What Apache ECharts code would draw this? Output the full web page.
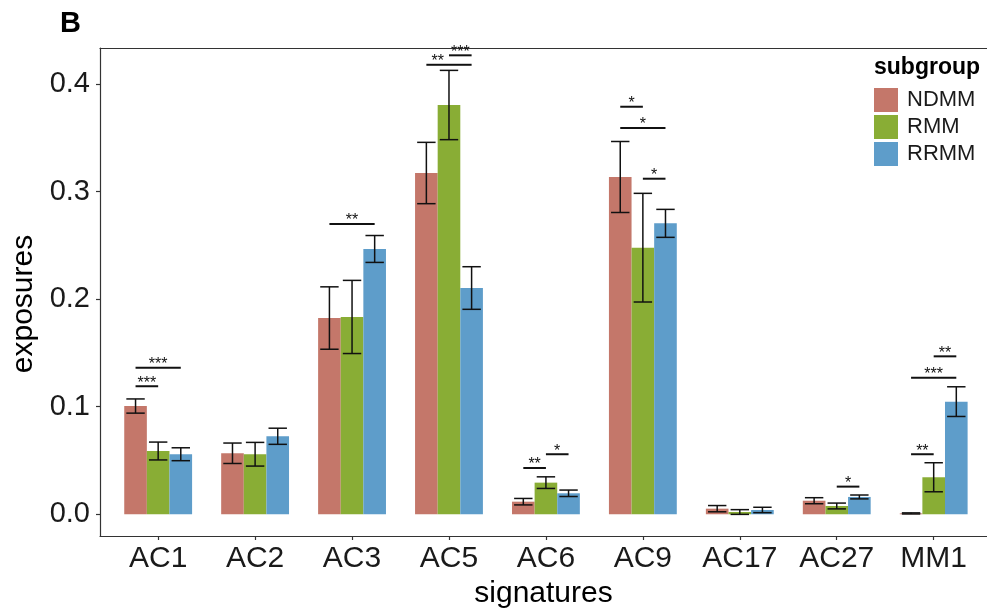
<!DOCTYPE html>
<html><head><meta charset="utf-8">
<script src="https://cdn.jsdelivr.net/npm/echarts@6/dist/echarts.min.js"></script>
<style>html,body{margin:0;padding:0;background:#fff}#c{width:987px;height:609px}</style>
</head><body><div id="c"></div>
<script>
// ---- data ----
const categories = ['AC1','AC2','AC3','AC5','AC6','AC9','AC17','AC27','MM1'];
const groups = ['NDMM','RMM','RRMM'];
const ndmm    = [0.1006,0.0567,0.1824,0.3172,0.0117,0.3135,0.0052,0.0126,0.0008];
const ndmmErr = [0.0066,0.0095,0.0290,0.0285,0.0030,0.0330,0.0029,0.0028,0.0005];
const rmm     = [0.0588,0.0558,0.1834,0.3804,0.0294,0.2478,0.0021,0.0077,0.0344];
const rmmErr  = [0.0083,0.0110,0.0340,0.0322,0.0054,0.0505,0.0022,0.0027,0.0135];
const rrmm    = [0.0558,0.0725,0.2466,0.2103,0.0195,0.2704,0.0040,0.0161,0.1047];
const rrmmErr = [0.0060,0.0075,0.0125,0.0198,0.0030,0.0130,0.0025,0.0018,0.0138];
const yTicks = [0, 0.1, 0.2, 0.3, 0.4];
// significance brackets
const sigCategory = [0,0,2,3,3,3,4,4,5,5,5,7,8,8,8];
const sigFrom     = [0,0,0,0,1,1,0,1,0,0,1,1,0,0,1];
const sigTo       = [1,2,2,1,2,2,1,2,1,2,2,2,1,2,2];
const sigY        = [0.119,0.1362,0.2698,0.4178,0.4178,0.4266,0.043,0.0558,0.3788,0.359,0.3119,0.0257,0.0558,0.127,0.1468];
const sigLabel    = ['***','***','**','**','','***','**','*','*','*','*','*','**','***','**'];

// ---- chart ----
const FONT = '"Liberation Sans", Arial, sans-serif';
const colors = ['#C4776A','#89AD35','#5E9DCA'];
const barW = 0.7/3;
const offsets = [-barW, 0, barW];
const whisker = 0.095;

function barSeries(idx, vals, errs) {
  return {
    type: 'custom', name: groups[idx],
    itemStyle: {color: colors[idx]},
    data: vals.map((v,i)=>[i, v, errs[i]]),
    encode: {x: 0, y: 1},
    z: 2 + idx,
    renderItem(params, api) {
      const c = api.value(0) + offsets[idx];
      const v = api.value(1), e = api.value(2);
      const p0 = api.coord([c - barW/2, 0]);
      const p1 = api.coord([c + barW/2, v]);
      const top = api.coord([c, v + e]);
      const bot = api.coord([c, v - e]);
      const wl = api.coord([c - whisker, v])[0];
      const wr = api.coord([c + whisker, v])[0];
      const ls = {stroke: '#111', lineWidth: 1.5};
      return {type: 'group', children: [
        {type: 'rect', shape: {x: p0[0], y: p1[1], width: p1[0]-p0[0], height: p0[1]-p1[1]}, style: {fill: colors[idx]}},
        {type: 'line', shape: {x1: top[0], y1: top[1], x2: bot[0], y2: bot[1]}, style: ls},
        {type: 'line', shape: {x1: wl, y1: top[1], x2: wr, y2: top[1]}, style: ls},
        {type: 'line', shape: {x1: wl, y1: bot[1], x2: wr, y2: bot[1]}, style: ls}
      ]};
    }
  };
}

const sigSeries = {
  type: 'custom', name: 'sig', z: 10,
  data: sigCategory.map((c,i)=>[c, sigFrom[i], sigTo[i], sigY[i]]),
  encode: {x: 0, y: 3},
  renderItem(params, api) {
    const c = api.value(0);
    const a = api.coord([c + offsets[api.value(1)], api.value(3)]);
    const b = api.coord([c + offsets[api.value(2)], api.value(3)]);
    const label = sigLabel[params.dataIndex];
    const children = [
      {type: 'line', shape: {x1: a[0], y1: a[1], x2: b[0], y2: b[1]}, style: {stroke: '#111', lineWidth: 2}}
    ];
    if (label) children.push({type: 'text', style: {text: label, x: (a[0]+b[0])/2, y: a[1] + 5, align: 'center', verticalAlign: 'bottom', fontSize: 16, fontFamily: FONT, fill: '#111'}});
    return {type: 'group', children};
  }
};

const chart = echarts.init(document.getElementById('c'));
chart.setOption({
  animation: false,
  backgroundColor: '#fff',
  title: {text: 'B', left: 60, top: 9, padding: 0, textStyle: {fontSize: 29, fontWeight: 'bold', fontFamily: FONT, color: '#000'}},
  grid: {left: 100, right: 0, top: 48, bottom: 73, containLabel: false, outerBoundsMode: 'none'},
  legend: {
    data: groups, orient: 'vertical', left: 874, top: 88, padding: 0,
    itemWidth: 24, itemHeight: 24, itemGap: 3, icon: 'rect', selectedMode: false,
    textStyle: {fontSize: 22, fontFamily: FONT, color: '#1a1a1a', padding: [0,0,0,4]}
  },
  graphic: [
    {type: 'text', left: 874, top: 56, style: {text: 'subgroup', fontSize: 23, fontWeight: 'bold', fontFamily: FONT, fill: '#000'}},
    {type: 'text', x: 39, y: 304, rotation: Math.PI/2, style: {text: 'exposures', x: 0, y: 0, align: 'center', verticalAlign: 'bottom', fontSize: 30, fontFamily: FONT, fill: '#000'}}
  ],
  xAxis: [{
    type: 'value', min: -0.6, max: 8.55,
    axisLine: {show: true, onZero: false, lineStyle: {color: '#333', width: 1.2}},
    axisTick: {show: true, customValues: categories.map((_,i)=>i), length: 4, lineStyle: {color: '#333', width: 1.2}},
    axisLabel: {customValues: categories.map((_,i)=>i), formatter: v => categories[Math.round(v)], fontSize: 30, fontFamily: FONT, color: '#1a1a1a', margin: 8},
    splitLine: {show: false},
    name: 'signatures', nameLocation: 'middle', nameGap: 36,
    nameTextStyle: {fontSize: 30, fontFamily: FONT, color: '#000'}
  }, {
    type: 'value', position: 'top', min: -0.6, max: 8.55,
    axisLine: {show: true, onZero: false, lineStyle: {color: '#333', width: 1.2}},
    axisTick: {show: false}, axisLabel: {show: false}, splitLine: {show: false}
  }],
  yAxis: {
    type: 'value', min: -0.0202, max: 0.4334,
    axisLine: {show: true, onZero: false, lineStyle: {color: '#333', width: 1.2}},
    axisTick: {show: true, customValues: yTicks, length: 4, lineStyle: {color: '#333', width: 1.2}},
    axisLabel: {customValues: yTicks, formatter: v => v.toFixed(1), fontSize: 29, fontFamily: FONT, color: '#1a1a1a', margin: 10},
    splitLine: {show: false}
  },
  series: [
    barSeries(0, ndmm, ndmmErr),
    barSeries(1, rmm, rmmErr),
    barSeries(2, rrmm, rrmmErr),
    sigSeries
  ]
});
</script>
</body></html>
